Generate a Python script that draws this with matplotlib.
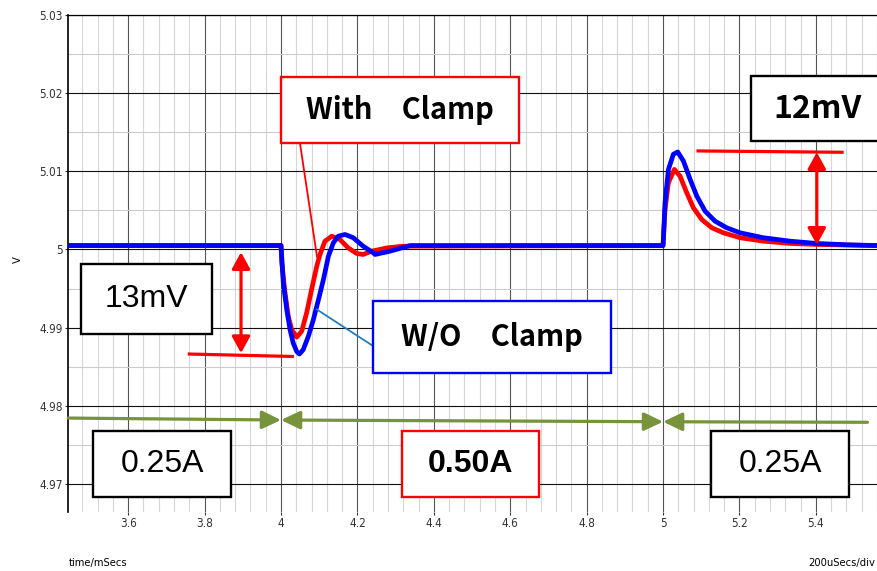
"""Load-transient waveform: output voltage with and without clamp."""
import matplotlib
matplotlib.use("Agg")
import matplotlib.pyplot as plt
from matplotlib.patches import Rectangle
from matplotlib.ticker import MultipleLocator

# time in ms, output voltage in V
red_t = [3.443, 4.000, 4.002, 4.0105, 4.019, 4.028, 4.041, 4.054, 4.067, 4.080,
         4.0935, 4.102, 4.115, 4.133, 4.154, 4.176, 4.198, 4.215, 4.237, 4.277,
         4.320, 5.000, 5.0052, 5.0139, 5.0296, 5.0445, 5.062, 5.0794, 5.1013,
         5.1275, 5.158, 5.2016, 5.2627, 5.3325, 5.4024, 5.560]
red_v = [5.0005, 5.0005, 4.9983, 4.99445, 4.99146, 4.98975, 4.9888, 4.98954,
         4.99189, 4.99488, 4.99786, 4.99936, 5.00106, 5.0017, 5.00128, 5.0002,
         4.99949, 4.99936, 4.99978, 5.0002, 5.00042, 5.0005, 5.0051, 5.00852,
         5.01023, 5.00937, 5.00724, 5.00533, 5.00383, 5.00277, 5.00213, 5.0015,
         5.00106, 5.00077, 5.00064, 5.0005]

blue_t = [3.443, 4.000, 4.006, 4.015, 4.0236, 4.032, 4.041, 4.048, 4.058, 4.0715,
          4.0846, 4.098, 4.111, 4.124, 4.137, 4.150, 4.1675, 4.189, 4.215, 4.2416,
          4.246, 4.285, 4.338, 5.000, 5.0052, 5.0139, 5.027, 5.0384, 5.0532,
          5.0707, 5.0882, 5.110, 5.136, 5.1667, 5.2016, 5.2627, 5.3325, 5.4024,
          5.481, 5.560]
blue_v = [5.0005, 5.0005, 4.99573, 4.99231, 4.98975, 4.98804, 4.98697, 4.98664,
          4.98719, 4.9889, 4.99103, 4.99359, 4.99616, 4.99914, 5.00086, 5.0017,
          5.00192, 5.0015, 5.00042, 4.99957, 4.99936, 4.99978, 5.0005, 5.0005,
          5.006, 5.0102, 5.01217, 5.01246, 5.01131, 5.00897, 5.00683, 5.0049,
          5.00362, 5.00277, 5.00213, 5.0015, 5.00106, 5.00077, 5.0006, 5.0005]

x_ticks = [3.6, 3.8, 4.0, 4.2, 4.4, 4.6, 4.8, 5.0, 5.2, 5.4]
y_ticks = [4.97, 4.98, 4.99, 5.00, 5.01, 5.02, 5.03]

# load current steps
load_edges = [3.443, 4.0, 5.0, 5.535]
load_labels = ["0.25A", "0.50A", "0.25A"]

# measured deviations
undershoot_mv = "13mV"
overshoot_mv = "12mV"

TICK_FONT = ["Liberation Sans Narrow", "DejaVu Sans"]
BOX_FONT = ["Noto Sans CJK JP", "DejaVu Sans"]
PLAIN_FONT = ["Liberation Sans", "DejaVu Sans"]
GREEN = "#77933c"
RED = "#ff0000"
BLUE = "#0000ff"

fig = plt.figure(figsize=(8.77, 5.71), dpi=100)
ax = fig.add_axes([0.0778, 0.1039, 0.9222, 0.8704])
ax.set_xlim(3.443, 5.560)
ax.set_ylim(4.9665, 5.030)

# grid, scope style
ax.set_axisbelow(True)
ax.xaxis.set_minor_locator(MultipleLocator(0.04))
ax.yaxis.set_minor_locator(MultipleLocator(0.005))
ax.xaxis.grid(True, which="minor", color="#d6d6d6", lw=0.8)
ax.yaxis.grid(True, which="minor", color="#cccccc", lw=0.8)
ax.xaxis.grid(True, which="major", color="#555555", lw=0.8)
ax.yaxis.grid(True, which="major", color="#111111", lw=0.8)

ax.set_xticks(x_ticks)
ax.set_xticklabels([f"{v:g}" for v in x_ticks], family=TICK_FONT,
                   fontsize=8.5, fontstretch="condensed")
ax.set_yticks(y_ticks)
ax.set_yticklabels([f"{v:g}" for v in y_ticks], family=TICK_FONT,
                   fontsize=8.5, fontstretch="condensed")
ax.tick_params(which="major", length=2, width=0.8, pad=2, colors="#333333")
ax.tick_params(which="minor", length=0)
for side in ("right", "bottom"):
    ax.spines[side].set_visible(False)
ax.spines["left"].set_linewidth(1.2)
ax.spines["top"].set_linewidth(0.9)

ax.plot(red_t, red_v, color=RED, lw=3.4, solid_joinstyle="round", zorder=3)
ax.plot(blue_t, blue_v, color=BLUE, lw=3.4, solid_joinstyle="round", zorder=4)

fig.text(0.021, 0.545, "V", family=TICK_FONT, fontsize=8, rotation=90,
         ha="center", va="center", fontstretch="condensed")
fig.text(0.078, 0.014, "time/mSecs", family=TICK_FONT, fontsize=8,
         va="center", fontstretch="condensed")
fig.text(0.998, 0.014, "200uSecs/div", family=TICK_FONT, fontsize=8,
         va="center", ha="right", fontstretch="condensed")


def box(x0, x1, y0, y1, text, edge, weight, family, size):
    ax.add_patch(Rectangle((x0, y0), x1 - x0, y1 - y0, facecolor="white",
                           edgecolor=edge, lw=1.7, zorder=6, clip_on=False))
    return ax.text((x0 + x1) / 2, (y0 + y1) / 2, text, ha="center", va="center",
                   fontsize=size, fontweight=weight, family=family, zorder=7)


def arrow(x0, y0, x1, y1, color, style, lw, hl, hw):
    ax.annotate("", xy=(x1, y1), xytext=(x0, y0),
                arrowprops=dict(arrowstyle=f"{style},head_length={hl},head_width={hw}",
                                color=color, lw=lw, shrinkA=0, shrinkB=0),
                zorder=5)


# callouts (full-width space between the words, as in the original)
box(3.9992, 4.6238, 5.01355, 5.0221, "With\u3000Clamp", RED, "bold", BOX_FONT, 21)
ax.plot([4.0497, 4.0942], [5.01355, 4.99907], color=RED, lw=1.3, zorder=5)
box(4.2416, 4.8631, 4.98419, 4.99337, "W/O\u3000Clamp", BLUE, "bold", BOX_FONT, 21)
ax.plot([4.0935, 4.2416], [4.99234, 4.98765], color="#1f7fc4", lw=1.3, zorder=5)

# undershoot measurement
box(3.4764, 3.8186, 4.98923, 4.99817, undershoot_mv, "black", "normal",
    PLAIN_FONT, 23)
ax.plot([3.760, 4.0296], [4.98664, 4.98633], color=RED, lw=2.3, zorder=5)
arrow(3.8953, 4.98676, 3.8953, 4.99965, RED, "<|-|>", 2.3, 1.0, 0.55)

# overshoot measurement (box runs off the right edge)
label = box(5.2296, 5.62, 5.0138, 5.0222, overshoot_mv, "black", "bold",
            BOX_FONT, 23)
label.set_x(5.4045)
ax.plot([5.0916, 5.4686], [5.01259, 5.01242], color=RED, lw=2.3, zorder=5)
arrow(5.4024, 5.0006, 5.4024, 5.01242, RED, "<|-|>", 2.3, 1.0, 0.55)

# load current segments
arrow(load_edges[0], 4.97846, load_edges[1], 4.97821, GREEN, "-|>", 2.3, 1.15, 0.55)
arrow(load_edges[1], 4.97821, load_edges[2], 4.97799, GREEN, "<|-|>", 2.3, 1.15, 0.55)
arrow(load_edges[3], 4.97792, load_edges[2], 4.97799, GREEN, "-|>", 2.3, 1.15, 0.55)

load_boxes = [(3.5086, 3.8683, "black", "normal"),
              (4.316, 4.6754, RED, "bold"),
              (5.1257, 5.487, "black", "normal")]
for (x0, x1, edge, weight), text in zip(load_boxes, load_labels):
    box(x0, x1, 4.96837, 4.9768, text, edge, weight, PLAIN_FONT, 23)

fig.savefig("out.png", dpi=100)
